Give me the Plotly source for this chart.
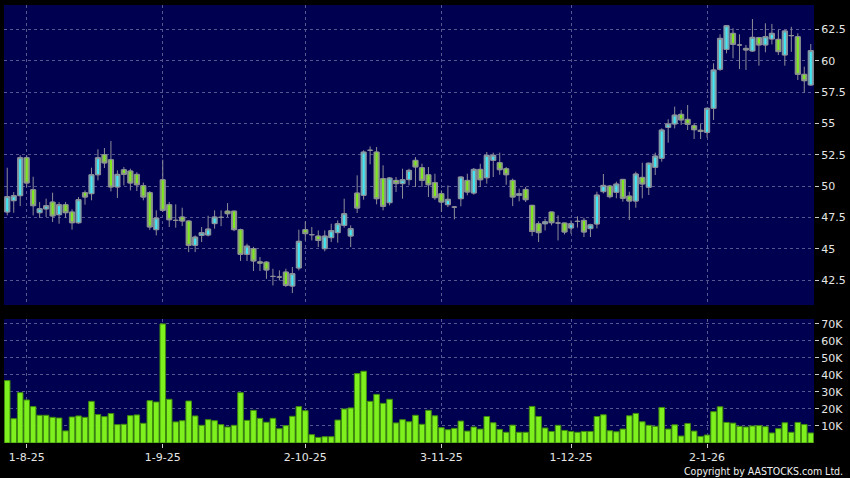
import plotly.graph_objects as go

# ---- data ----
bar_index = list(range(125))

open_ = [47.93, 48.83, 49.23, 52.26, 49.71, 47.87, 48.17, 48.72, 47.71, 48.51,
         47.93, 47.07, 49.47, 49.39, 50.90, 52.50, 52.10, 49.92, 51.30, 51.20,
         50.93, 50.03, 49.47, 46.52, 50.50, 48.51, 47.26, 47.53, 47.21, 45.27,
         46.06, 46.09, 47.00, 47.50, 48.00, 48.00, 46.52, 44.55, 45.00, 43.95,
         43.93, 42.79, 42.74, 43.14, 42.02, 43.46, 46.52, 46.12, 46.01, 45.00,
         45.88, 46.28, 46.86, 46.01, 49.44, 49.26, 52.85, 52.71, 50.59, 48.67,
         50.45, 50.19, 50.51, 52.05, 51.46, 50.90, 50.27, 49.39, 48.51, 48.32,
         48.99, 50.45, 49.44, 51.33, 50.66, 52.05, 51.86, 51.38, 50.45, 49.26,
         49.73, 48.46, 46.99, 46.99, 47.93, 47.05, 47.05, 46.65, 47.18, 47.26,
         46.60, 46.97, 49.55, 50.00, 49.50, 50.53, 49.20, 48.80, 50.69, 49.90,
         51.49, 52.21, 54.68, 54.95, 55.72, 55.32, 54.81, 54.45, 54.28, 56.20,
         59.31, 60.90, 62.18, 61.25, 60.98, 60.77, 61.84, 61.25, 61.73, 61.70,
         60.45, 62.00, 61.91, 58.91, 58.06]
high = [51.46, 49.52, 52.45, 52.45, 50.74, 48.72, 48.99, 49.47, 48.72, 48.72,
        48.14, 49.12, 49.65, 51.46, 52.93, 53.03, 53.59, 51.25, 51.52, 51.38,
        51.10, 50.27, 49.60, 48.06, 52.10, 48.72, 48.54, 48.27, 47.25, 46.06,
        46.73, 47.63, 48.06, 48.06, 48.64, 48.00, 46.60, 45.40, 45.15, 44.34,
        44.00, 43.40, 43.27, 43.40, 43.54, 46.52, 47.18, 46.73, 46.46, 46.46,
        46.99, 47.26, 48.99, 46.86, 50.85, 52.85, 53.16, 53.11, 51.65, 50.72,
        50.72, 51.38, 51.38, 52.31, 51.78, 51.52, 50.98, 49.65, 50.05, 48.40,
        50.72, 50.98, 51.44, 51.78, 52.71, 52.66, 52.66, 51.52, 50.59, 49.79,
        49.92, 48.46, 47.18, 47.39, 47.93, 47.66, 47.05, 47.26, 47.58, 47.47,
        46.99, 49.55, 50.96, 50.08, 50.35, 50.53, 49.55, 51.14, 51.86, 51.86,
        52.66, 54.60, 55.32, 56.33, 56.06, 56.46, 55.00, 54.95, 56.25, 59.79,
        62.10, 62.85, 62.58, 62.10, 61.25, 63.32, 61.90, 62.98, 62.93, 62.47,
        62.45, 62.70, 62.18, 59.52, 61.33]
low = [47.66, 47.87, 48.40, 49.92, 47.66, 47.45, 47.53, 47.13, 46.99, 47.45,
       46.52, 46.99, 48.51, 48.86, 50.45, 51.44, 49.57, 49.04, 50.05, 49.65,
       49.60, 48.86, 46.50, 46.06, 47.93, 46.73, 46.68, 46.81, 44.73, 44.73,
       45.53, 45.98, 46.60, 46.80, 47.53, 46.40, 44.02, 44.02, 43.22, 43.22,
       42.60, 42.07, 42.47, 41.94, 41.46, 43.27, 45.66, 45.66, 45.13, 44.79,
       45.53, 45.48, 46.68, 45.13, 47.85, 48.91, 51.73, 48.54, 48.06, 48.46,
       49.52, 48.99, 50.05, 49.92, 49.92, 49.12, 48.90, 47.93, 48.32, 47.34,
       48.38, 49.26, 49.31, 49.92, 50.19, 50.72, 50.90, 50.10, 48.40, 48.78,
       48.72, 46.01, 45.53, 46.46, 46.86, 45.66, 46.14, 46.20, 46.68, 45.93,
       45.93, 46.62, 49.41, 49.02, 49.02, 48.75, 47.29, 48.27, 49.02, 49.28,
       50.88, 51.94, 53.46, 54.60, 54.87, 54.47, 53.75, 53.75, 53.86, 55.27,
       59.18, 60.59, 60.19, 59.33, 59.26, 60.72, 59.60, 60.67, 61.30, 60.45,
       59.60, 60.70, 58.46, 57.45, 58.00]
close = [49.15, 49.23, 52.26, 50.24, 48.43, 48.19, 48.43, 47.61, 48.51, 47.87,
         47.07, 48.91, 49.12, 50.90, 52.26, 51.84, 49.92, 50.93, 50.93, 50.24,
         50.10, 49.12, 46.73, 47.45, 48.06, 47.31, 47.26, 47.21, 45.27, 45.93,
         46.28, 46.57, 47.53, 47.50, 47.79, 46.52, 44.55, 45.21, 44.02, 43.85,
         43.30, 42.79, 42.74, 42.07, 43.01, 45.59, 46.20, 46.12, 45.66, 46.01,
         46.44, 46.99, 47.79, 46.60, 48.24, 52.71, 52.85, 48.99, 48.38, 50.64,
         50.19, 50.50, 51.25, 51.52, 50.45, 50.10, 49.07, 48.72, 48.94, 48.32,
         50.72, 49.52, 51.33, 50.50, 52.45, 52.45, 51.30, 50.90, 49.12, 49.39,
         48.91, 46.37, 46.28, 47.15, 47.07, 47.05, 46.33, 46.99, 47.18, 46.33,
         46.91, 49.28, 50.05, 49.15, 50.16, 49.02, 48.80, 50.96, 50.16, 51.82,
         52.39, 54.47, 54.95, 55.66, 55.27, 54.92, 54.49, 54.35, 56.20, 59.26,
         61.78, 62.79, 61.30, 61.25, 60.85, 61.86, 61.25, 61.91, 62.18, 60.72,
         62.37, 62.00, 58.91, 58.40, 60.80]
volume_k = [36.7, 14.3, 29.6, 25.3, 21.4, 16.3, 16.3, 15.1, 14.7, 7.1,
            15.3, 15.9, 15.1, 24.5, 16.7, 15.5, 17.3, 10.8, 11.0, 16.1,
            16.5, 11.6, 24.9, 24.1, 70.0, 25.7, 12.4, 13.1, 24.7, 15.9,
            10.4, 13.7, 13.1, 10.8, 9.4, 10.4, 29.6, 13.3, 19.2, 14.5,
            12.2, 14.5, 8.4, 10.2, 15.7, 21.4, 19.0, 4.9, 3.3, 3.7,
            3.7, 13.5, 20.0, 20.6, 40.8, 42.2, 24.5, 28.6, 23.3, 25.7,
            11.8, 13.7, 12.5, 16.3, 11.0, 19.2, 16.0, 9.0, 7.8, 8.6,
            12.9, 7.0, 9.4, 8.2, 15.6, 11.9, 8.0, 6.3, 10.5, 6.3,
            6.3, 21.5, 15.6, 8.8, 6.8, 10.4, 7.4, 6.8, 6.3, 6.8,
            6.8, 15.6, 16.6, 7.2, 6.6, 8.2, 16.0, 17.4, 12.5, 10.4,
            9.8, 20.9, 8.2, 10.7, 4.1, 11.5, 7.0, 3.9, 4.7, 18.4,
            21.3, 12.1, 11.7, 9.8, 9.4, 10.0, 10.2, 9.6, 5.9, 8.4,
            11.9, 6.3, 12.1, 10.9, 5.9]

date_tick_pos = [3, 24, 46, 67, 87, 108]
date_tick_text = ["1-8-25", "1-9-25", "2-10-25", "3-11-25", "1-12-25", "2-1-26"]
price_ticks = [42.5, 45, 47.5, 50, 52.5, 55, 57.5, 60, 62.5]
price_tick_text = ["42.5", "45", "47.5", "50", "52.5", "55", "57.5", "60", "62.5"]
vol_ticks = [10, 20, 30, 40, 50, 60, 70]
vol_tick_text = ["10K", "20K", "30K", "40K", "50K", "60K", "70K"]

# ---- styling ----
NAVY = "#000050"
GRID = "#575790"
CYAN = "#3ee8f4"
LIME = "#7ee81c"
EDGE = "#8e8e98"
FONT = dict(family="DejaVu Sans", size=11, color="#e6e6e6")

# body geometry derived from the OHLC lists (drawn through the price axis)
body_base = [min(o, c) for o, c in zip(open_, close)]
body_size = [abs(c - o) for o, c in zip(open_, close)]
body_color = [CYAN if c > o else (LIME if c < o else EDGE) for o, c in zip(open_, close)]

fig = go.Figure()
# wicks (and thin bodies underneath)
fig.add_trace(go.Candlestick(
    x=bar_index, open=open_, high=high, low=low, close=close,
    increasing=dict(fillcolor=CYAN, line=dict(color=EDGE, width=1)),
    decreasing=dict(fillcolor=LIME, line=dict(color=EDGE, width=1)),
    whiskerwidth=0, xaxis="x", yaxis="y", showlegend=False, hoverinfo="skip",
))
# wide candle bodies
fig.add_trace(go.Bar(
    x=bar_index, y=body_size, base=body_base, width=0.8,
    marker=dict(color=body_color, line=dict(color=EDGE, width=1)),
    xaxis="x", yaxis="y", showlegend=False,
))
# volume
fig.add_trace(go.Bar(
    x=bar_index, y=volume_k, width=0.86,
    marker=dict(color="#7ef01e", line=dict(color="#3f8a0e", width=1)),
    xaxis="x2", yaxis="y2", showlegend=False,
))

H_TOP, H_BOT = 5, 443
span = H_BOT - H_TOP
price_dom = [(H_BOT - 305) / span, 1.0]
vol_dom = [0.0, (H_BOT - 319) / span]

common_x = dict(range=[-0.5, 124.5], tickvals=date_tick_pos, showgrid=True,
                gridcolor=GRID, griddash="3px,3px", gridwidth=1, zeroline=False,
                showline=False, fixedrange=True)

fig.update_layout(
    width=850, height=478, autosize=False,
    margin=dict(l=4, r=36, t=H_TOP, b=478 - H_BOT),
    paper_bgcolor="black", plot_bgcolor=NAVY,
    font=FONT, barmode="overlay",
    xaxis=dict(**common_x, anchor="y", showticklabels=False,
               rangeslider=dict(visible=False)),
    xaxis2=dict(**common_x, anchor="y2", ticktext=date_tick_text,
                ticks="outside", ticklen=4, tickcolor="#cccccc",
                tickfont=FONT),
    yaxis=dict(domain=price_dom, range=[40.51, 64.44], side="right",
               tickvals=price_ticks, ticktext=price_tick_text,
               ticks="outside", ticklen=4, tickcolor="#cccccc",
               showgrid=True, gridcolor=GRID, griddash="3px,3px",
               zeroline=False, tickfont=FONT, anchor="x"),
    yaxis2=dict(domain=vol_dom, range=[0, 72.9], side="right",
                tickvals=vol_ticks, ticktext=vol_tick_text,
                ticks="outside", ticklen=4, tickcolor="#cccccc",
                showgrid=True, gridcolor=GRID, griddash="3px,3px",
                zeroline=False, tickfont=FONT, anchor="x2"),
    annotations=[dict(text="Copyright by AASTOCKS.com Ltd.", xref="paper",
                      yref="paper", x=(845 - 4) / 810, y=(H_BOT - 471) / span,
                      xanchor="right", yanchor="middle", showarrow=False,
                      font=dict(family="DejaVu Sans Condensed, DejaVu Sans",
                                size=10.5, color="#f0f0f0"))],
)

fig.write_html(
    "out.html",
    config=dict(displayModeBar=False),
    post_script="document.body.style.margin='0';document.body.style.background='black';",
)
